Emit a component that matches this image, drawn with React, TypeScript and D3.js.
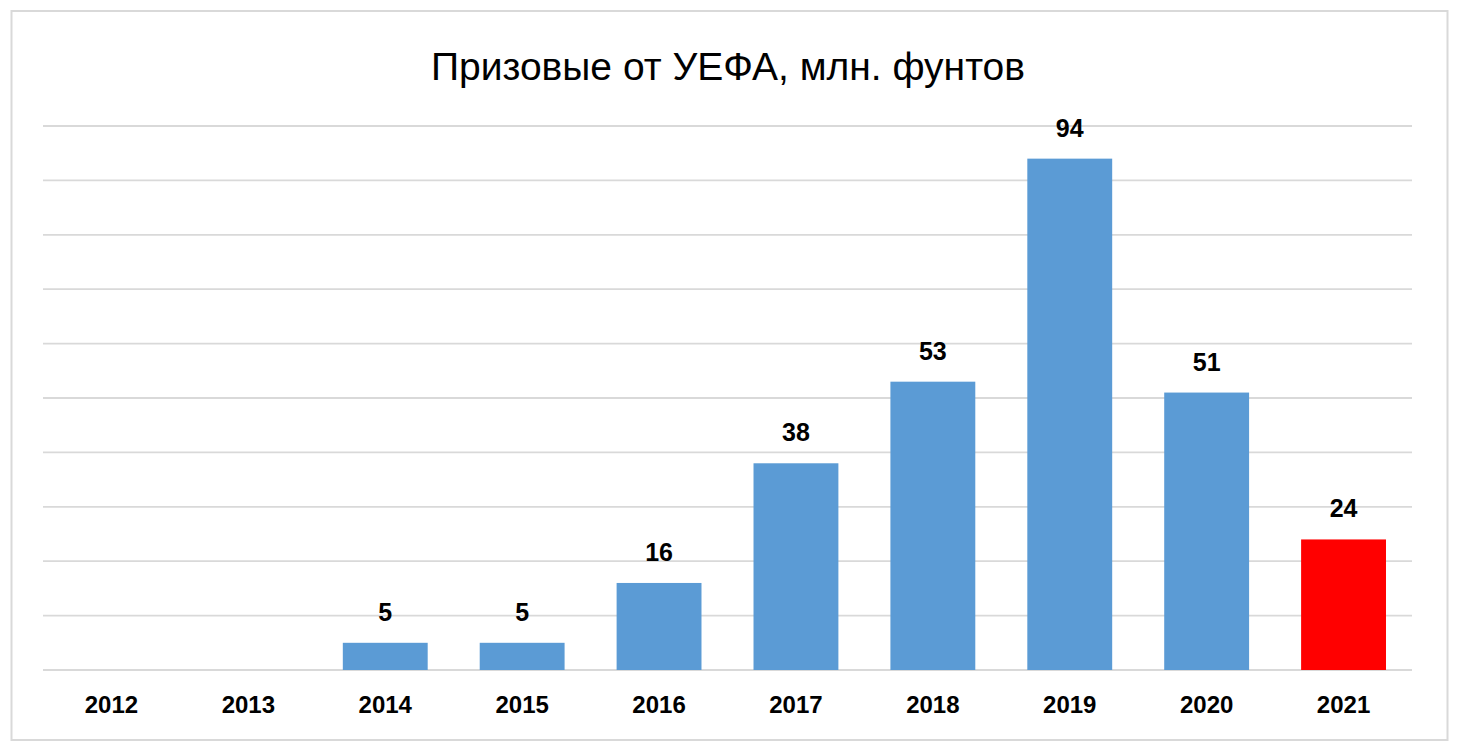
import React from "react";
import * as d3 from "d3";

const years = ["2012", "2013", "2014", "2015", "2016", "2017", "2018", "2019", "2020", "2021"];
const values: (number | null)[] = [null, null, 5, 5, 16, 38, 53, 94, 51, 24];
const highlightYear = "2021";
const yTicks = [0, 10, 20, 30, 40, 50, 60, 70, 80, 90, 100];
const title = "Призовые от УЕФА, млн. фунтов";

export default function App() {
  const W = 1460, H = 751;
  const x = d3.scaleBand<string>().domain(years).range([43, 1412]).paddingInner(0.38).paddingOuter(0.19);
  const y = d3.scaleLinear().domain([0, 100]).range([670, 126]);
  return (
    <svg width={W} height={H} style={{ position: "absolute", left: 0, top: 0, background: "#fff" }}>
      <rect x={0} y={0} width={W} height={H} fill="#fff" />
      <rect x={11.5} y={11} width={1436} height={729} fill="#fff" stroke="#d9d9d9" strokeWidth={2} />
      <text x={728} y={80} textAnchor="middle" fontFamily="'Liberation Sans', Arial, sans-serif" fontSize={39} fill="#000">{title}</text>
      {yTicks.map((t) => (
        <line key={t} x1={43} x2={1412} y1={y(t)} y2={y(t)} stroke="#d9d9d9" strokeWidth={1.8} />
      ))}
      {years.map((yr, i) => {
        const v = values[i];
        const bx = x(yr)!;
        const cx = bx + x.bandwidth() / 2;
        return (
          <g key={yr}>
            {v != null && (
              <>
                <rect x={bx} y={y(v)} width={x.bandwidth()} height={y(0) - y(v)} fill={yr === highlightYear ? "#ff0000" : "#5b9bd5"} />
                <text x={cx} y={y(v) - 22} textAnchor="middle" fontFamily="'Liberation Sans', Arial, sans-serif" fontWeight="bold" fontSize={25} fill="#000">{v}</text>
              </>
            )}
            <text x={cx} y={713} textAnchor="middle" fontFamily="'Liberation Sans', Arial, sans-serif" fontWeight="bold" fontSize={24} fill="#000">{yr}</text>
          </g>
        );
      })}
    </svg>
  );
}
